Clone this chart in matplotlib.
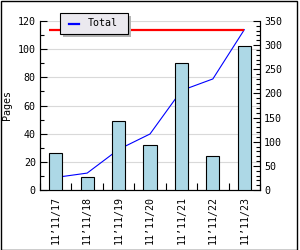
import matplotlib
matplotlib.use("Agg")
import matplotlib.pyplot as plt
from matplotlib.patches import Rectangle
from matplotlib.ticker import MultipleLocator
import numpy as np

categories = ["11’11/17", "11’11/18", "11’11/19", "11’11/20", "11’11/21", "11’11/22", "11’11/23"]
pages = [26, 9, 49, 32, 90, 24, 102]
total = [26, 35, 84, 116, 206, 230, 332]
max_total = 332

plt.rcParams['font.family'] = ['DejaVu Sans Mono', 'DejaVu Sans']
FS = 7.2
fig = plt.figure(figsize=(3.0, 2.5), dpi=100)
W, H = 300, 250
ax = fig.add_axes([40 / W, 1 - 190 / H, 220 / W, 169 / H])
ax2 = ax.twinx()

x = np.arange(len(categories))
bw = 0.42

# right axis: line and max line (behind bars)
ax2.plot(x, total, color='#0000ff', lw=0.8, zorder=1)
ax2.hlines(max_total, -bw / 2, x[-1], color='#ff0000', lw=1.6, zorder=1)
ax2.set_ylim(0, 350)
ax2.yaxis.set_major_locator(MultipleLocator(50))
ax2.yaxis.set_minor_locator(MultipleLocator(10))
ax2.tick_params(axis='y', which='major', direction='in', length=5, width=0.8, labelsize=FS, pad=3)
ax2.tick_params(axis='y', which='minor', direction='in', length=3, width=0.8)

# left axis bars
ax.set_zorder(ax2.get_zorder() + 1)
ax.patch.set_visible(False)
ax.bar(x, pages, width=bw, color='#add8e6', edgecolor='black', linewidth=0.8, zorder=3)
ax.set_ylim(0, 120)
ax.set_xlim(-0.5, len(categories) - 0.5)
ax.yaxis.set_major_locator(MultipleLocator(20))
ax.yaxis.set_minor_locator(MultipleLocator(10))
ax.tick_params(axis='y', which='major', direction='in', length=5, width=0.8, labelsize=FS, pad=3)
ax.tick_params(axis='y', which='minor', direction='in', length=3, width=0.8)

# horizontal grid behind the line
for v in range(20, 121, 20):
    ax2.axhline(v * 350 / 120, color='#d9d9d9', lw=0.8, zorder=0)

ax.set_xticks(x)
ax.set_xticklabels(categories, rotation=90, fontsize=FS)
ax.tick_params(axis='x', which='major', length=0, pad=4)
ax.set_xticks(np.arange(-0.5, len(categories) - 0.4, 1), minor=True)
ax.tick_params(axis='x', which='minor', direction='in', length=5, width=0.8)

for a in (ax, ax2):
    a.spines['top'].set_visible(False)
    for s in ('left', 'right', 'bottom'):
        a.spines[s].set_linewidth(0.8)

ax.set_ylabel("Pages", fontsize=FS, labelpad=4)

# legend with shadow
lx, ly, lw_, lh = 60 / W, 1 - 34 / H, 68 / W, 21 / H
fig.patches.append(Rectangle((lx + 3 / W, ly - 3 / H), lw_, lh, transform=fig.transFigure,
                             facecolor='#b4b4b4', edgecolor='none', zorder=10))
fig.patches.append(Rectangle((lx, ly), lw_, lh, transform=fig.transFigure,
                             facecolor='#ebe9ef', edgecolor='black', lw=0.8, zorder=11))
fig.lines.append(plt.Line2D([69 / W, 79 / W], [1 - 23.5 / H, 1 - 23.5 / H], transform=fig.transFigure,
                            color='#0000ff', lw=1.6, zorder=12))
fig.text(88 / W, 1 - 23.5 / H, "Total", fontsize=FS, va='center', ha='left', zorder=12)

# outer border
fig.patches.append(Rectangle((0.5 / W, 0.5 / H), 296.5 / W, 248.5 / H, transform=fig.transFigure,
                             facecolor='none', edgecolor='black', lw=1.0, zorder=20))

fig.savefig("out.png", dpi=100)
